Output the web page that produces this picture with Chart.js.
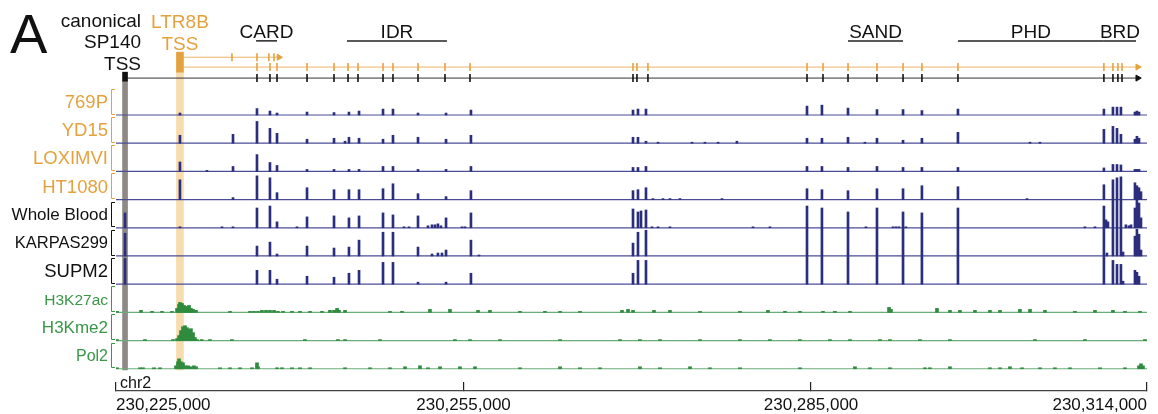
<!DOCTYPE html>
<html>
<head>
<meta charset="utf-8">
<script src="https://cdn.jsdelivr.net/npm/chart.js@4/dist/chart.umd.min.js"></script>
<style>
  html, body { margin: 0; background: #fff; }
  #wrap { width: 1158px; height: 414px; }
</style>
</head>
<body>
<div id="wrap"><canvas id="browser"></canvas></div>
<script>
const REGION_START = 230225000;
const REGION_END = 230314000;
const axisTicks = [230225000, 230255000, 230285000, 230314000];

// all positions are kb downstream of REGION_START (chr2)
const canonicalTssKb = 0.78;
const ltr8bTssKb = 5.52;

const trackNames = ['769P', 'YD15', 'LOXIMVI', 'HT1080', 'Whole Blood', 'KARPAS299', 'SUPM2', 'H3K27ac', 'H3Kme2', 'Pol2'];

// RNA-seq peak positions (exons + TSS), heights on a 0-28 track scale
const peakKb = [0.78, 5.52, 10.10, 12.17, 13.29, 13.90, 16.49, 18.82, 20.11, 20.98, 23.05, 23.91, 26.07, 28.49, 30.64,
  44.63, 45.06, 45.75, 59.65, 60.94, 63.19, 65.69, 67.94, 69.57, 72.68, 85.28, 86.06, 86.41, 86.75, 87.96, 88.13, 88.31, 88.48];

const sig769P = [0, 2, 0, 6.5, 4, 2, 3, 2.5, 3, 4, 6, 6, 2, 2, 5, 5, 6, 6, 9, 10, 7, 5.5, 5.5, 4.5, 6, 6, 8, 8, 8, 3, 4, 3, 0];
const sigYD15 = [0, 8, 9, 22, 15, 10, 4, 5, 6, 5, 4, 8, 6, 4, 8, 6, 6, 2, 5, 5, 6, 5, 3, 5, 11, 14, 17, 15, 9, 4, 7, 5, 0];
const sigLOXIMVI = [0, 9.5, 5, 17, 9, 6, 2, 2, 2, 2, 5, 5, 2, 2, 5, 4, 4, 5, 5, 5, 4, 5, 4, 4, 4, 3.5, 7, 7, 6.5, 2, 2, 2, 0];
const sigHT1080 = [0, 20, 2, 24, 22, 7, 12, 10, 10, 10, 11, 16, 6, 3, 9, 9, 10, 12, 11, 10, 9, 11, 11, 14, 13, 15, 20, 22, 23, 17, 14, 12, 8];
const sigWholeBlood = [15, 1, 1, 20, 22, 6, 11, 12, 10, 12, 15, 13, 12, 10, 15, 19, 16, 18, 22, 20, 16, 20, 16, 15, 20, 22, 28, 28, 28, 20, 28, 25, 10];
const sigKARPAS299 = [23, 0, 0, 10, 14, 2, 10, 8, 9, 16, 24, 24, 9, 6, 16, 13, 24, 26, 28, 28, 28, 28, 28, 28, 28, 28, 28, 28, 28, 20, 27, 22, 6];
const sigSUPM2 = [26, 0, 0, 14, 14, 5, 8, 7, 11, 14, 22, 22, 2, 2, 11, 11, 24, 24, 28, 28, 28, 28, 28, 28, 28, 28, 24, 20, 20, 14, 12, 8, 0];

// low-level reads outside the main exon peaks [kb, height]
const extra769P = [];
const extraYD15 = [[19.77, 2], [46.79, 1], [49.72, 1], [50.84, 1], [51.97, 1], [53.6, 2], [64.65, 1], [78.9, 1], [79.76, 1]];
const extraLOXIMVI = [[7.85, 1]];
const extraHT1080 = [[46.35, 1], [47.22, 1], [47.82, 1], [48.68, 1], [52.31, 1], [78.64, 1]];
const extraWholeBlood = [[9.15, 1], [15.62, 1], [24.86, 1], [25.29, 1], [26.93, 2], [27.28, 3], [27.54, 3], [27.79, 4], [28.05, 2],
  [29.87, 1], [30.13, 1], [45.32, 17], [46.27, 1], [46.79, 1], [47.82, 1], [54.99, 1], [56.45, 1], [64.74, 1], [67.07, 1],
  [67.33, 1], [67.59, 1], [68.19, 1], [83.64, 1], [84.51, 1], [85.46, 8], [85.63, 6], [87.18, 3], [87.44, 2], [87.62, 3]];
const extraKARPAS299 = [[27.28, 2], [27.79, 3], [28.14, 3], [31.33, 1], [85.54, 3], [86.93, 4]];
const extraSUPM2 = [[86.93, 3]];

// ChIP-seq [kb, height]
const h3k27acPeaks = [[0.09, 1], [2.16, 2], [3.11, 1], [3.97, 1], [4.83, 1], [5.27, 4], [5.44, 8], [5.52, 10], [5.70, 9], [5.87, 7],
  [6.04, 6], [6.22, 5], [6.30, 7], [6.47, 4], [6.65, 3], [6.91, 2], [9.84, 1], [11.57, 1], [11.91, 1], [12.26, 1], [12.60, 2],
  [12.95, 2], [13.29, 2], [13.64, 2], [13.98, 1], [14.42, 1], [15.19, 1], [15.88, 1], [16.75, 1], [17.78, 1], [18.47, 2],
  [18.82, 2], [19.08, 4], [19.25, 2], [19.77, 2], [23.65, 1], [24.69, 1], [27.10, 3], [28.83, 3], [31.25, 2], [32.28, 2],
  [34.87, 1], [37.03, 1], [38.33, 1], [40.05, 1], [43.68, 2], [44.20, 3], [44.63, 2], [46.44, 2], [47.82, 2], [50.41, 1],
  [53.86, 1], [56.28, 2], [57.75, 1], [59.04, 1], [61.03, 1], [62.06, 1], [63.36, 1], [66.73, 5], [66.90, 3], [70.87, 4],
  [71.99, 2], [72.85, 2], [74.15, 2], [75.44, 2], [76.31, 2], [78.03, 3], [78.90, 3], [80.19, 2], [82.78, 1], [84.51, 2],
  [86.06, 2], [87.10, 1], [88.39, 1]];
const h3kme2Peaks = [[0.09, 1], [2.50, 1], [4.92, 1], [5.27, 2], [5.44, 5], [5.61, 10], [5.78, 14], [5.96, 15], [6.13, 13],
  [6.30, 11], [6.47, 12], [6.65, 8], [6.82, 3], [7.0, 1], [7.4, 1], [8.11, 1], [10.01, 1], [16.31, 1], [19.16, 1], [19.77, 1],
  [22.79, 1], [29.26, 1], [30.56, 1], [33.15, 1], [38.33, 1], [43.51, 1], [45.23, 1], [46.96, 1], [50.41, 1], [53.86, 1],
  [56.45, 1], [59.04, 1], [61.63, 1], [63.36, 1], [65.95, 1], [66.81, 1], [69.40, 1], [71.99, 1], [79.33, 1], [83.64, 1], [88.82, 1]];
const pol2Peaks = [[0.09, 1], [2.07, 1], [2.33, 1], [3.28, 1], [3.80, 1], [5.18, 3], [5.35, 7], [5.44, 10], [5.61, 7], [5.78, 6],
  [5.96, 3], [6.22, 3], [6.47, 2], [6.73, 3], [6.91, 2], [8.98, 1], [9.84, 1], [10.70, 1], [11.74, 1], [12.17, 6], [12.26, 2],
  [13.90, 1], [14.33, 1], [15.19, 1], [15.88, 1], [16.75, 1], [19.77, 1], [21.93, 1], [23.65, 1], [24.95, 2], [26.24, 3],
  [26.93, 1], [27.97, 2], [29.69, 2], [30.99, 2], [34.87, 1], [38.33, 2], [40.05, 1], [41.78, 1], [45.23, 2], [46.96, 1],
  [49.55, 2], [51.27, 1], [53.86, 1], [59.04, 1], [63.79, 2], [65.08, 1], [66.81, 1], [69.83, 1], [70.26, 1], [71.99, 2],
  [75.44, 1], [76.31, 1], [77.17, 2], [78.21, 1], [79.76, 1], [81.05, 1], [82.35, 1], [84.94, 1], [87.10, 1], [88.31, 3],
  [88.48, 5], [88.65, 3]];

// SP140 gene models
const exonKb = [12.17, 13.29, 13.90, 16.49, 18.82, 20.03, 20.89, 23.05, 23.91, 26.07, 28.40, 30.56, 44.63, 44.97, 45.92,
  59.65, 61.03, 63.19, 65.69, 67.94, 69.57, 72.68, 85.28, 86.06, 86.49, 86.84];
const shortExonKb = [10.01, 12.17, 13.20, 13.64];
const shortEndKb = 14.07;
const geneEndKb = 88.2;

const domainNames = ['CARD', 'IDR', 'SAND', 'PHD', 'BRD'];
const domainStartKb = [12.09, 19.94, 63.19, 72.68, 85.28];
const domainEndKb = [13.90, 28.57, 67.94, 85.28, 88.05];

const FONT = '"Liberation Sans", Arial, Helvetica, sans-serif';
const ORANGE = '#e4a23e';
const NAVY = '#2b2e7c';
const GREEN = '#2f8b3e';
const labelColors = [ORANGE, ORANGE, ORANGE, ORANGE, '#111', '#111', '#111', '#3a9748', '#3a9748', '#3a9748'];
const labelSizes = [18.5, 18.5, 18.5, 18.5, 17, 16.5, 18.5, 15.5, 17, 16];

const H_SCALE = 28.5;
const ROW_BLACK = 11.10, ROW_ORANGE2 = 11.49, ROW_ORANGE1 = 11.84, ROW_DOMAIN = 12.42;

const toBp = (kb) => REGION_START + kb * 1000;
const trackBase = (i) => 0.79 + (trackNames.length - 1 - i);
const pairs = (sig, extra) => peakKb.map((k, j) => [k, sig[j]]).concat(extra);

const trackData = [
  pairs(sig769P, extra769P), pairs(sigYD15, extraYD15), pairs(sigLOXIMVI, extraLOXIMVI), pairs(sigHT1080, extraHT1080),
  pairs(sigWholeBlood, extraWholeBlood), pairs(sigKARPAS299, extraKARPAS299), pairs(sigSUPM2, extraSUPM2),
  h3k27acPeaks, h3kme2Peaks, pol2Peaks,
];

const datasets = [];

// highlight bands behind everything
datasets.push({
  type: 'bar', data: [{ x: toBp(canonicalTssKb), y: [0.745, 10.99] }],
  backgroundColor: '#8e8985', barThickness: 5, order: 10,
});
datasets.push({
  type: 'bar', data: [{ x: toBp(ltr8bTssKb), y: [0.745, 11.31] }],
  backgroundColor: '#f7dcaf', barThickness: 7, order: 10,
});

trackData.forEach((pts, i) => {
  const base = trackBase(i);
  const chip = i >= 7;
  datasets.push({
    type: 'line',
    data: [{ x: REGION_START, y: base }, { x: REGION_END, y: base }],
    borderColor: chip ? '#6aad78' : '#4a4d96', borderWidth: 1.2, pointRadius: 0, order: 5,
  });
  datasets.push({
    type: 'bar',
    data: pts.filter((p) => p[1] > 0).map(([k, h]) => ({ x: toBp(k), y: [base, base + h / H_SCALE] })),
    backgroundColor: chip ? GREEN : NAVY, barThickness: chip ? 3 : 2, order: 2,
  });
});

// transcripts
const transcriptLine = (fromKb, toKb, row, color) => ({
  type: 'line', data: [{ x: toBp(fromKb), y: row }, { x: toBp(toKb), y: row }],
  borderColor: color, borderWidth: 1, pointRadius: 0, order: 1,
});
datasets.push(transcriptLine(canonicalTssKb, geneEndKb, ROW_BLACK, '#333'));
datasets.push(transcriptLine(ltr8bTssKb, geneEndKb, ROW_ORANGE2, '#ebb466'));
datasets.push(transcriptLine(ltr8bTssKb, shortEndKb, ROW_ORANGE1, '#ebb466'));

const exonTicks = (list, row, color) => ({
  type: 'scatter', data: list.map((k) => ({ x: toBp(k), y: row })),
  pointStyle: 'line', rotation: 90, radius: 4, borderColor: color, borderWidth: 1.6, order: 0,
});
datasets.push(exonTicks(exonKb, ROW_BLACK, '#111'));
datasets.push(exonTicks(exonKb, ROW_ORANGE2, ORANGE));
datasets.push(exonTicks(shortExonKb, ROW_ORANGE1, ORANGE));

datasets.push({
  type: 'scatter',
  data: [{ x: toBp(geneEndKb), y: ROW_BLACK }],
  pointStyle: 'triangle', rotation: 90, radius: 3.5, backgroundColor: '#111', borderColor: '#111', order: 0,
});
datasets.push({
  type: 'scatter',
  data: [{ x: toBp(geneEndKb), y: ROW_ORANGE2 }, { x: toBp(shortEndKb), y: ROW_ORANGE1 }],
  pointStyle: 'triangle', rotation: 90, radius: 3.5, backgroundColor: ORANGE, borderColor: ORANGE, order: 0,
});

// TSS blocks
datasets.push({
  type: 'bar', data: [{ x: toBp(canonicalTssKb), y: [10.99, 11.31] }],
  backgroundColor: '#111', barThickness: 5, order: 0,
});
datasets.push({
  type: 'bar', data: [{ x: toBp(ltr8bTssKb), y: [11.31, 12.02] }],
  backgroundColor: ORANGE, barThickness: 7, order: 0,
});

// protein domains
domainNames.forEach((name, i) => {
  datasets.push({
    type: 'line',
    data: [{ x: toBp(domainStartKb[i]), y: ROW_DOMAIN }, { x: toBp(domainEndKb[i]), y: ROW_DOMAIN }],
    borderColor: '#222', borderWidth: 1.5, pointRadius: 0, order: 1,
  });
});

const annotate = {
  id: 'annotate',
  afterDraw(chart) {
    const { ctx, scales: { x, y } } = chart;
    ctx.save();

    // track brackets
    trackNames.forEach((name, i) => {
      const base = trackBase(i);
      const top = Math.round(y.getPixelForValue(base + 0.93)) + 0.5;
      const bot = Math.round(y.getPixelForValue(base + 0.05)) + 0.5;
      const bx = x.left - 4.5;
      ctx.strokeStyle = labelColors[i];
      ctx.lineWidth = 1;
      ctx.beginPath();
      ctx.moveTo(x.left - 1, top);
      ctx.lineTo(bx, top);
      ctx.lineTo(bx, bot);
      ctx.lineTo(x.left - 1, bot);
      ctx.stroke();
    });

    ctx.textBaseline = 'alphabetic';
    ctx.fillStyle = '#111';
    ctx.font = `56px ${FONT}`;
    ctx.textAlign = 'left';
    ctx.fillText('A', 10, 53);

    ctx.font = `19px ${FONT}`;
    ctx.textAlign = 'right';
    const tssX = x.getPixelForValue(toBp(canonicalTssKb));
    ctx.fillText('canonical', tssX + 16, 27);
    ctx.fillText('SP140', tssX + 16, 48);
    ctx.fillText('TSS', tssX + 16, 70);

    ctx.fillStyle = ORANGE;
    ctx.textAlign = 'center';
    const ltrX = x.getPixelForValue(toBp(ltr8bTssKb));
    ctx.fillText('LTR8B', ltrX, 28);
    ctx.fillText('TSS', ltrX, 50);

    ctx.fillStyle = '#111';
    const domY = y.getPixelForValue(ROW_DOMAIN) - 3;
    domainNames.forEach((name, i) => {
      const cx = x.getPixelForValue(toBp((domainStartKb[i] + domainEndKb[i]) / 2));
      ctx.fillText(name, cx, domY);
    });

    ctx.font = `16px ${FONT}`;
    ctx.textAlign = 'left';
    ctx.fillText('chr2', x.left + 4, y.bottom - 3);
    ctx.restore();
  },
};

new Chart(document.getElementById('browser'), {
  type: 'bar',
  data: { datasets },
  options: {
    responsive: true,
    maintainAspectRatio: false,
    animation: false,
    layout: { autoPadding: false, padding: { top: 0, right: 11, bottom: 0, left: 0 } },
    datasets: { bar: { grouped: false } },
    plugins: { legend: { display: false }, tooltip: { enabled: false } },
    scales: {
      x: {
        type: 'linear',
        min: REGION_START,
        max: REGION_END,
        offset: false,
        afterBuildTicks: (s) => { s.ticks = axisTicks.map((v) => ({ value: v })); },
        afterFit: (s) => {
          s.height = 23;
          s.paddingLeft = 0;
          s.paddingRight = 0;
        },
        grid: { drawOnChartArea: false, drawTicks: true, tickLength: -9, color: '#222', lineWidth: 1.2, offset: false },
        border: { display: true, color: '#444', width: 1.2 },
        ticks: {
          align: 'inner', padding: 13, autoSkip: false, maxRotation: 0, color: '#111',
          font: { family: FONT, size: 17 },
          callback: (v) => Number(v).toLocaleString('en-US'),
        },
      },
      y: {
        type: 'linear',
        min: 0,
        max: 13.87,
        position: 'left',
        afterBuildTicks: (s) => { s.ticks = trackNames.map((n, i) => ({ value: trackBase(i) + 0.43 })); },
        afterFit: (s) => {
          s.width = 116;
          s.paddingTop = 0;
          s.paddingBottom = 0;
        },
        grid: { display: false, drawTicks: false },
        border: { display: false },
        ticks: {
          autoSkip: false,
          padding: 8,
          callback: (v, i) => trackNames[i],
          color: (c) => labelColors[c.index],
          font: (c) => ({ family: FONT, size: labelSizes[c.index] }),
        },
      },
    },
  },
  plugins: [annotate],
});
</script>
</body>
</html>
